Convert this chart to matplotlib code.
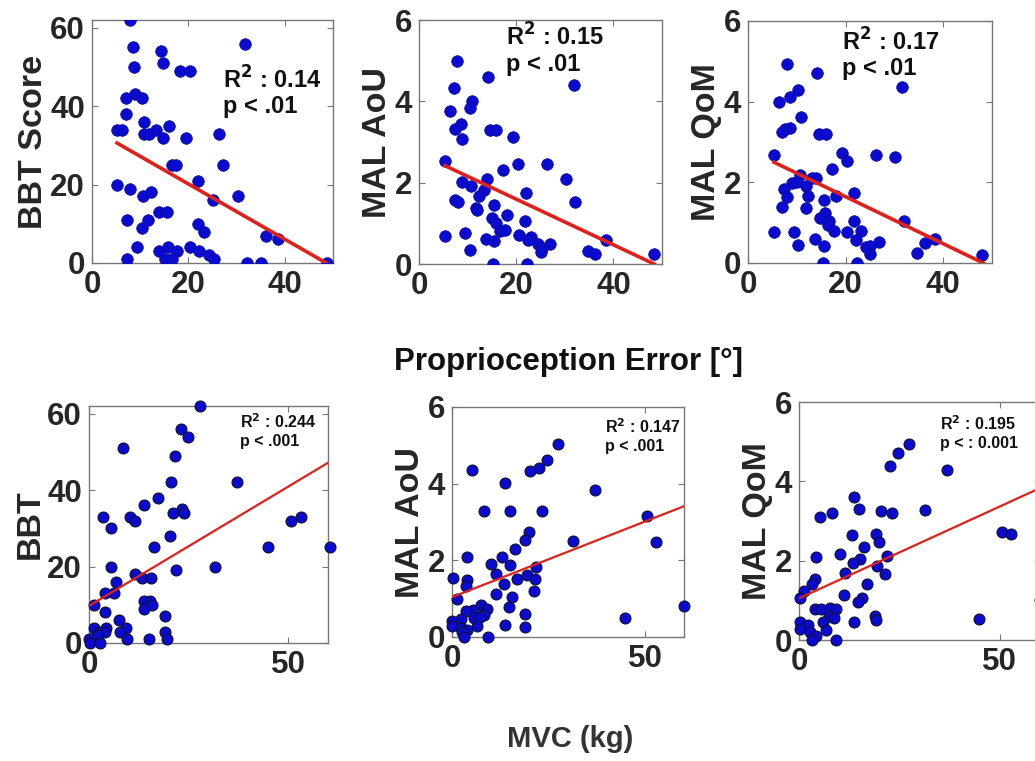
import matplotlib.pyplot as plt
import numpy as np

plt.rcParams['font.family'] = ['Liberation Sans', 'DejaVu Sans']
plt.rcParams['font.weight'] = 'bold'

# --- proprioception error vs outcomes (top row) ---
prop_bbt_x = [7.8, 8.6, 8.8, 31.7, 14.4, 14.8, 18.3, 20.3, 7.0, 9.0, 10.3, 7.0, 10.8, 5.2, 6.2,
              10.7, 11.9, 13.3, 14.8, 16.0, 19.4, 26.3, 16.6, 17.4, 27.1, 5.2, 7.9, 22.0, 30.3,
              10.6, 12.2, 25.2, 7.2, 11.7, 10.3, 13.9, 15.5, 21.9, 23.2, 36.2, 38.5, 9.4, 13.9,
              15.8, 17.7, 20.4, 22.3, 24.3, 25.3, 7.3, 15.1, 16.6, 32.1, 35.0, 48.8]
prop_bbt_y = [62, 55, 50, 56, 54, 51, 49, 49, 42, 43, 42, 38, 36, 34, 34,
              33, 33, 34, 32, 35, 32, 33, 25, 25, 25, 20, 19, 21, 17,
              17, 18, 16, 11, 11, 9, 13, 13, 10, 8, 7, 6, 4, 3,
              4, 3, 4, 3, 2, 1, 1, 1, 1, 0, 0, 0]

prop_aou_x = [7.9, 14.3, 31.8, 7.1, 6.4, 11.0, 10.4, 8.7, 7.5, 8.8, 14.6, 15.9, 19.3, 5.3,
              20.3, 26.4, 17.3, 30.3, 14.0, 8.9, 10.6, 13.3, 12.3, 22.0, 7.5, 8.0, 32.0, 15.5,
              11.8, 11.9, 18.2, 15.0, 15.9, 21.8, 16.6, 17.7, 5.3, 9.5, 20.5, 13.8, 15.5, 23.1,
              22.4, 24.4, 27.0, 25.3, 25.1, 10.4, 34.7, 36.3, 38.5, 48.4, 15.2, 22.3]
prop_aou_y = [5.0, 4.59, 4.39, 4.32, 3.77, 4.01, 3.83, 3.45, 3.31, 3.08, 3.30, 3.30, 3.13, 2.53,
              2.47, 2.47, 2.30, 2.09, 2.09, 2.01, 1.93, 1.83, 1.66, 1.75, 1.58, 1.53, 1.53, 1.46,
              1.37, 1.33, 1.21, 1.13, 1.02, 1.05, 0.82, 0.84, 0.70, 0.76, 0.72, 0.61, 0.56, 0.66,
              0.58, 0.50, 0.50, 0.39, 0.29, 0.35, 0.31, 0.25, 0.58, 0.25, 0.0, 0.0]

prop_qom_x = [7.9, 14.2, 31.5, 10.3, 8.6, 6.4, 10.9, 8.7, 7.5, 6.9, 14.6, 15.9, 19.3, 20.2,
              26.2, 30.1, 5.4, 17.2, 10.7, 13.2, 14.0, 9.0, 10.1, 11.8, 7.4, 21.8, 12.2, 7.9,
              18.1, 15.5, 7.0, 11.8, 15.8, 14.8, 16.5, 21.7, 31.9, 16.3, 5.3, 9.5, 17.6, 20.3,
              23.1, 13.8, 22.2, 26.9, 36.3, 38.3, 10.3, 15.5, 24.2, 25.1, 25.0, 34.7, 48.0,
              15.3, 22.3]
prop_qom_y = [4.93, 4.72, 4.37, 4.30, 4.12, 3.99, 3.62, 3.35, 3.31, 3.25, 3.20, 3.21, 2.73, 2.54,
              2.67, 2.63, 2.67, 2.33, 2.17, 2.10, 2.10, 1.99, 2.00, 1.92, 1.84, 1.74, 1.67, 1.64,
              1.67, 1.55, 1.39, 1.37, 1.24, 1.12, 1.05, 1.05, 1.05, 0.93, 0.76, 0.76, 0.79, 0.76,
              0.79, 0.60, 0.56, 0.53, 0.50, 0.60, 0.44, 0.43, 0.40, 0.43, 0.23, 0.25, 0.20,
              0.0, 0.0]

# fitted lines (start, end)
prop_fit_x = [[5.2, 48.6], [5.3, 48.4], [5.3, 48.2]]
prop_fit_y = [[30.6, 0.0], [2.42, 0.0], [2.50, 0.0]]
prop_stats = ['R$^2$ : 0.14\np < .01', 'R$^2$ : 0.15\np < .01', 'R$^2$ : 0.17\np < .01']
prop_ylabels = ['BBT Score', 'MAL AoU', 'MAL QoM']

# --- MVC vs outcomes (bottom row) ---
mvc_bbt_x = [27.8, 23.0, 24.9, 8.6, 21.5, 20.6, 37.2, 17.2, 13.9, 23.4, 21.2, 23.8, 3.5, 10.4,
             11.6, 50.7, 53.1, 5.5, 20.3, 16.4, 44.9, 60.4, 5.5, 31.6, 21.9, 11.5, 6.8, 13.3,
             15.5, 4.0, 6.4, 1.3, 13.7, 15.2, 15.8, 13.9, 4.0, 19.2, 7.5, 1.3, 4.2, 9.3, 2.5,
             4.1, 7.8, 19.0, 0.0, 2.3, 9.5, 15.0, 19.6, 0.3, 2.7]
mvc_bbt_y = [62, 56, 54, 51, 49, 42, 42, 38, 36, 35, 34, 34, 33, 33,
             32, 32, 33, 30, 28, 25, 25, 25, 20, 20, 19, 18, 16, 17,
             17, 13, 13, 10, 11, 11, 10, 9, 8, 7, 6, 4, 4, 4, 3,
             3, 3, 3, 1, 2, 1, 1, 1, 0, 0]

mvc_aou_x = [27.5, 24.6, 22.6, 20.3, 5.2, 13.7, 36.9, 8.3, 15.0, 23.3, 50.4, 31.3, 52.8, 19.9,
             19.0, 16.3, 4.0, 13.0, 10.2, 15.1, 21.6, 11.5, 19.3, 0.3, 3.8, 16.9, 21.4, 3.5,
             13.5, 21.3, 11.5, 15.6, 1.2, 60.1, 14.7, 7.6, 9.1, 5.5, 3.7, 8.4, 5.8, 7.3, 18.9,
             44.8, 2.2, 0.0, 0.0, 6.5, 13.8, 19.0, 2.4, 4.0, 2.7, 3.1, 9.2]
mvc_aou_y = [5.03, 4.61, 4.42, 4.33, 4.35, 4.02, 3.84, 3.30, 3.30, 3.29, 3.16, 2.50, 2.47, 2.73,
             2.52, 2.30, 2.09, 2.10, 1.91, 1.89, 1.83, 1.65, 1.61, 1.53, 1.48, 1.52, 1.52, 1.32,
             1.39, 1.20, 1.13, 1.04, 1.00, 0.82, 0.78, 0.83, 0.73, 0.70, 0.67, 0.57, 0.50, 0.52, 0.61,
             0.49, 0.48, 0.42, 0.29, 0.28, 0.32, 0.25, 0.24, 0.17, 0.13, 0.0, 0.0]

mvc_qom_x = [27.5, 24.75, 22.7, 36.8, 13.7, 15.0, 5.3, 8.3, 20.3, 23.1, 31.3, 50.5, 52.7, 13.2,
             19.1, 20.0, 16.2, 4.2, 10.3, 15.3, 21.8, 13.5, 19.5, 11.4, 21.3, 4.1, 3.3, 17.0,
             1.25, 11.3, 0.3, 15.75, 14.75, 3.9, 5.4, 7.7, 9.1, 7.4, 8.75, 18.9, 19.2, 44.75,
             13.75, 6.0, 0.2, 2.25, 6.7, 0.3, 2.7, 4.2, 3.3, 9.3, 60.0]
mvc_qom_y = [4.93, 4.71, 4.38, 4.28, 3.61, 3.31, 3.10, 3.20, 3.26, 3.21, 3.27, 2.73, 2.68, 2.64,
             2.67, 2.46, 2.35, 2.10, 2.16, 2.03, 2.11, 1.93, 1.86, 1.68, 1.66, 1.55, 1.40, 1.41,
             1.23, 1.13, 1.05, 1.05, 0.96, 0.79, 0.77, 0.80, 0.77, 0.60, 0.55, 0.60, 0.50, 0.53,
             0.45, 0.46, 0.46, 0.39, 0.25, 0.27, 0.21, 0.10, 0.0, 0.0, 1.0]

mvc_fit_x = [[0.0, 60.4], [0.0, 60.2], [0.0, 60.0]]
mvc_fit_y = [[9.7, 47.4], [1.04, 3.42], [1.05, 3.83]]
mvc_stats = ['R$^2$ : 0.244\np < .001', 'R$^2$ : 0.147\np < .001', 'R$^2$ : 0.195\np < : 0.001']
mvc_ylabels = ['BBT', 'MAL AoU', 'MAL QoM']

W, H = 1035, 761
fig = plt.figure(figsize=(W / 100, H / 100), dpi=100)
fig.patch.set_facecolor('white')

TXT = '#262626'


def px_axes(x0, y0, x1, y1):
    # pixel box (left, top, right, bottom) -> figure fraction axes
    return fig.add_axes([x0 / W, 1 - y1 / H, (x1 - x0) / W, (y1 - y0) / H])


def style(ax, xticks, yticks, xlim, ylim):
    ax.set_xlim(*xlim)
    ax.set_ylim(*ylim)
    ax.set_xticks(xticks)
    ax.set_yticks(yticks)
    ax.tick_params(direction='in', length=4, width=0.8, top=True, right=True,
                   labelsize=22.5, colors='#777777', labelcolor=TXT, pad=5)
    for lab in ax.get_xticklabels() + ax.get_yticklabels():
        lab.set_fontweight('bold')
    for sp in ax.spines.values():
        sp.set_color('#777777')
        sp.set_linewidth(1.0)


top_boxes = [(92, 20, 333, 263), (419, 20, 662, 264), (748, 21, 992, 263)]
top_data = [(prop_bbt_x, prop_bbt_y), (prop_aou_x, prop_aou_y), (prop_qom_x, prop_qom_y)]
top_ylims = [(0, 62), (0, 6), (0, 6)]
top_yticks = [[0, 20, 40, 60], [0, 2, 4, 6], [0, 2, 4, 6]]
top_txt_pos = [(0.545, 0.81), (0.357, 0.985), (0.385, 0.97)]

for i in range(3):
    ax = px_axes(*top_boxes[i])
    xs, ys = top_data[i]
    ax.scatter(xs, ys, s=70, color='#0a0ad0', edgecolors='#0a0a90', linewidths=0.5, zorder=3)
    ax.plot(prop_fit_x[i], prop_fit_y[i], color='#e0201b', lw=2.6, zorder=4)
    style(ax, [0, 20, 40], top_yticks[i], (0, 50), top_ylims[i])
    ax.set_ylabel(prop_ylabels[i], fontsize=24.5, fontweight='bold', color=TXT, labelpad=1)
    ax.text(*top_txt_pos[i], prop_stats[i], transform=ax.transAxes, ha='left', va='top',
            fontsize=17, fontweight='bold', color='#111111', linespacing=1.1, zorder=5)

bot_boxes = [(89, 406, 328, 643), (452, 407, 684, 637), (799, 402, 1040, 640)]
bot_data = [(mvc_bbt_x, mvc_bbt_y), (mvc_aou_x, mvc_aou_y), (mvc_qom_x, mvc_qom_y)]
bot_ylims = [(0, 62), (0, 6), (0, 6)]
bot_txt_pos = [(0.632, 0.975), (0.66, 0.955), (0.585, 0.95)]

for i in range(3):
    ax = px_axes(*bot_boxes[i])
    xs, ys = bot_data[i]
    ax.scatter(xs, ys, s=62, color='#0a0ad0', edgecolors='#101030', linewidths=0.8, zorder=3,
               clip_on=False)
    ax.plot(mvc_fit_x[i], mvc_fit_y[i], color='#e0201b', lw=1.6, zorder=4)
    style(ax, [0, 50], top_yticks[i], (0, 60), bot_ylims[i])
    ax.set_ylabel(mvc_ylabels[i], fontsize=24.5, fontweight='bold', color=TXT, labelpad=1)
    ax.text(*bot_txt_pos[i], mvc_stats[i], transform=ax.transAxes, ha='left', va='top',
            fontsize=11.5, fontweight='bold', color='#111111', linespacing=1.25, zorder=5)

fig.text(569 / W, 1 - 362 / H, 'Proprioception Error [°]', ha='center', va='center',
         fontsize=22.5, fontweight='bold', color='#111111')
fig.text(570 / W, 1 - 739 / H, 'MVC (kg)', ha='center', va='center',
         fontsize=21, fontweight='bold', color='#333333')

fig.savefig('out.png', dpi=100, facecolor='white')
